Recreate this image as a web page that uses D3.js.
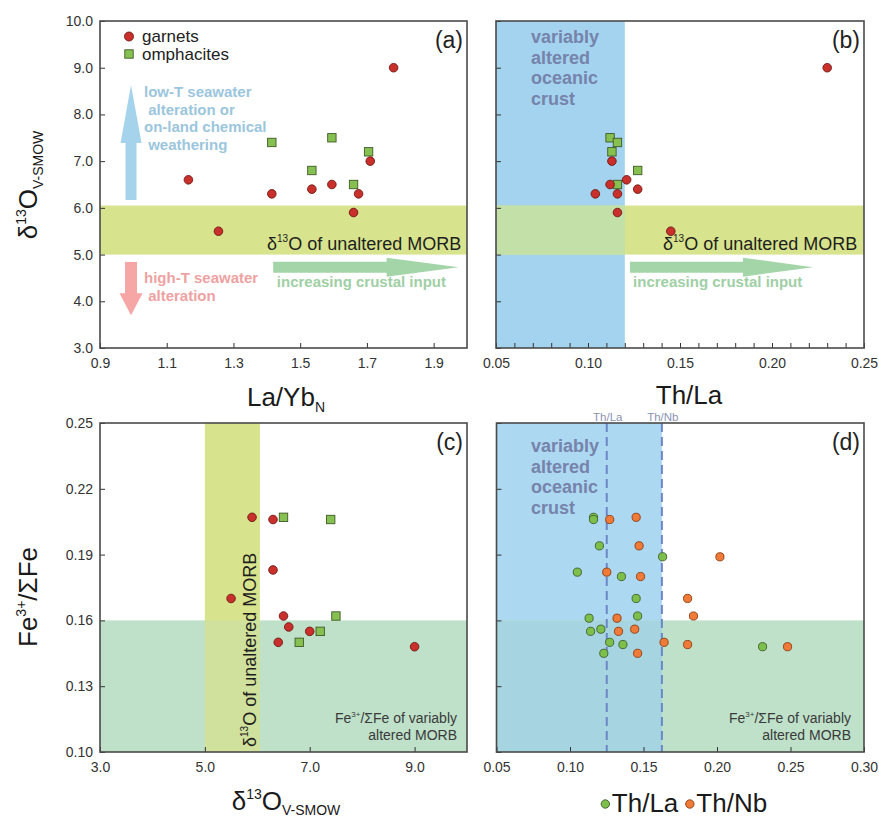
<!DOCTYPE html>
<html>
<head>
<meta charset="utf-8">
<script src="https://cdn.jsdelivr.net/npm/d3@7"></script>
<style>
  body { margin: 0; background: #fff; }
  svg { display: block; }
  text { font-family: "Liberation Sans", Arial, Helvetica, sans-serif; }
</style>
</head>
<body>
<svg id="chart" width="879" height="821"></svg>
<script>
// ---------------- data ----------------
// (a) La/Yb_N vs δ18O
const garnetLaYb   = [1.78, 1.165, 1.255, 1.415, 1.535, 1.595, 1.66, 1.675, 1.71];
const garnetD18O_a = [9.0, 6.6, 5.5, 6.3, 6.4, 6.5, 5.9, 6.3, 7.0];
const omphLaYb     = [1.415, 1.535, 1.595, 1.66, 1.705];
const omphD18O_a   = [7.4, 6.8, 7.5, 6.5, 7.2];

// (b) Th/La vs δ18O
const garnetThLa   = [0.230, 0.113, 0.112, 0.121, 0.127, 0.104, 0.116, 0.116, 0.145];
const garnetD18O_b = [9.0, 7.0, 6.5, 6.6, 6.4, 6.3, 6.3, 5.9, 5.5];
const omphThLa     = [0.112, 0.116, 0.113, 0.127, 0.116];
const omphD18O_b   = [7.5, 7.4, 7.2, 6.8, 6.5];

// (c) δ18O vs Fe3+/ΣFe
const garnetD18O_c = [5.9, 6.3, 6.3, 5.5, 6.5, 6.6, 7.0, 6.4, 9.0];
const garnetFe     = [0.207, 0.206, 0.183, 0.170, 0.162, 0.157, 0.155, 0.150, 0.148];
const omphD18O_c   = [6.5, 7.4, 7.5, 7.2, 6.8];
const omphFe       = [0.207, 0.206, 0.162, 0.155, 0.150];

// (d) Th/La and Th/Nb vs Fe3+/ΣFe
const sampleFe = [0.207, 0.206, 0.194, 0.189, 0.182, 0.180, 0.170, 0.162, 0.161, 0.156, 0.155, 0.150, 0.149, 0.148, 0.145];
const sampleThLa = [0.116, 0.116, 0.120, 0.163, 0.105, 0.135, 0.145, 0.146, 0.113, 0.121, 0.114, 0.127, 0.136, 0.231, 0.123];
const sampleThNb = [0.145, 0.127, 0.147, 0.202, 0.125, 0.148, 0.180, 0.184, 0.132, 0.144, 0.133, 0.164, 0.180, 0.248, 0.146];

// reference fields
const morbD18O = [5.0, 6.05];         // unaltered MORB δ18O range
const alteredThLa = [0.05, 0.12];     // variably altered oceanic crust (panel b)
const alteredFe = [0.10, 0.16];       // Fe3+/ΣFe of variably altered MORB
const alteredThLaRef = 0.125;         // Th/La reference line
const alteredThNbRef = 0.1625;        // Th/Nb reference line

// tick labels
const ticksA_x = [0.9, 1.1, 1.3, 1.5, 1.7, 1.9];
const ticksA_y = [3, 4, 5, 6, 7, 8, 9, 10];
const ticksB_x = [0.05, 0.10, 0.15, 0.20, 0.25];
const ticksC_x = [3, 5, 7, 9];
const ticksC_y = [0.10, 0.13, 0.16, 0.19, 0.22, 0.25];
const ticksD_x = [0.05, 0.10, 0.15, 0.20, 0.25, 0.30];

// ---------------- styles ----------------
const C = {
  frame: "#4a4a4a", tick: "#333",
  garnet: "#c9302b", garnetStroke: "#6e1a15",
  omph: "#86c050", omphStroke: "#3e5a26",
  thla: "#7dbf4b", thlaStroke: "#3f5e2b",
  thnb: "#f07a38", thnbStroke: "#8a3c12",
  yellow: "#d7e38d", blueB: "#a3d3ee", blueD: "#acd8f1", green: "#bfe1c9",
  ovBY: "#c4e0a9", ovCY: "#d0e09d", ovDG: "#a6d4e1",
  fieldText: "#7683ab",
  arrowBlue: "#a6d3ec", arrowRed: "#f6a6a4", arrowGreen: "#a4d5a9",
  txtBlue: "#9bc6dd", txtRed: "#eea2a2", txtGreen: "#a0cfa5"
};

const svg = d3.select("#chart");

// ---------------- scales ----------------
const xA = d3.scaleLinear().domain([0.9, 2.0]).range([100, 467]);
const yA = d3.scaleLinear().domain([3, 10]).range([348, 21]);
const xB = d3.scaleLinear().domain([0.05, 0.25]).range([496, 864]);
const yB = yA.copy();
const xC = d3.scaleLinear().domain([3, 10]).range([100, 467]);
const yC = d3.scaleLinear().domain([0.10, 0.25]).range([752, 423]);
const xD = d3.scaleLinear().domain([0.05, 0.30]).range([496.5, 864]);
const yD = yC.copy();

// ---------------- helpers ----------------
function rich(g, x, y, parts, opts = {}) {
  const t = g.append("text").attr("x", x).attr("y", y)
    .attr("text-anchor", opts.anchor || "start")
    .attr("fill", opts.fill || "#222");
  if (opts.weight) t.attr("font-weight", opts.weight);
  let cur = 0;
  parts.forEach(p => {
    const shift = p.shift || 0;
    t.append("tspan").attr("font-size", p.size).attr("dy", shift - cur).text(p.t);
    cur = shift;
  });
  return t;
}

function band(g, x0, x1, y0, y1, fill) {
  g.append("rect")
    .attr("x", Math.min(x0, x1)).attr("y", Math.min(y0, y1))
    .attr("width", Math.abs(x1 - x0)).attr("height", Math.abs(y1 - y0))
    .attr("fill", fill);
}

function frame(g, x, y) {
  g.append("rect")
    .attr("x", x.range()[0]).attr("y", y.range()[1])
    .attr("width", x.range()[1] - x.range()[0])
    .attr("height", y.range()[0] - y.range()[1])
    .attr("fill", "none").attr("stroke", C.frame).attr("stroke-width", 1.6);
}

function styleAxis(sel) {
  sel.select(".domain").remove();
  sel.selectAll(".tick line").attr("stroke", C.tick).attr("stroke-width", 1);
  sel.selectAll(".tick text").attr("fill", "#333").attr("font-size", 14)
    .attr("font-family", '"Liberation Sans", Arial, sans-serif');
}

function xAxis(g, x, y, values, fmt, labels = true) {
  const ax = d3.axisBottom(x).tickValues(values).tickSizeInner(-5).tickSizeOuter(0)
    .tickPadding(10).tickFormat(labels ? d3.format(fmt) : "");
  g.append("g").attr("transform", `translate(0,${y.range()[0]})`).call(ax).call(styleAxis);
}

function yAxis(g, x, y, values, fmt, labels = true) {
  const ax = d3.axisLeft(y).tickValues(values).tickSizeInner(-5).tickSizeOuter(0)
    .tickPadding(7).tickFormat(labels ? d3.format(fmt) : "");
  g.append("g").attr("transform", `translate(${x.range()[0]},0)`).call(ax).call(styleAxis);
}

// block arrow from (x0,y0) to tip (x1,y1)
function blockArrow(g, x0, y0, x1, y1, shaftHalf, headHalf, headLen, fill) {
  const dx = x1 - x0, dy = y1 - y0, L = Math.hypot(dx, dy);
  const ux = dx / L, uy = dy / L, nx = -uy, ny = ux;
  const bx = x1 - ux * headLen, by = y1 - uy * headLen;
  const pts = [
    [x0 + nx * shaftHalf, y0 + ny * shaftHalf],
    [bx + nx * shaftHalf, by + ny * shaftHalf],
    [bx + nx * headHalf, by + ny * headHalf],
    [x1, y1],
    [bx - nx * headHalf, by - ny * headHalf],
    [bx - nx * shaftHalf, by - ny * shaftHalf],
    [x0 - nx * shaftHalf, y0 - ny * shaftHalf]
  ];
  g.append("polygon").attr("points", pts.map(p => p.join(",")).join(" ")).attr("fill", fill);
}

function circles(g, xs, ys, x, y, fill, stroke, r = 4.3) {
  g.append("g").selectAll("circle").data(xs.map((v, i) => [v, ys[i]])).join("circle")
    .attr("cx", d => x(d[0])).attr("cy", d => y(d[1])).attr("r", r)
    .attr("fill", fill).attr("stroke", stroke).attr("stroke-width", 0.9);
}

function squares(g, xs, ys, x, y, fill, stroke, s = 8.4) {
  g.append("g").selectAll("rect").data(xs.map((v, i) => [v, ys[i]])).join("rect")
    .attr("x", d => x(d[0]) - s / 2).attr("y", d => y(d[1]) - s / 2)
    .attr("width", s).attr("height", s)
    .attr("fill", fill).attr("stroke", stroke).attr("stroke-width", 0.9);
}

function panelTag(g, x, y, label) {
  g.append("text").attr("x", x.range()[1] - 4).attr("y", y.range()[1] + 27)
    .attr("text-anchor", "end").attr("font-size", 23).attr("fill", "#222").text(label);
}

function morbLabel(g, xPix, y) {
  rich(g, xPix, y(5.0) - 5, [
    { t: "δ", size: 18 }, { t: "13", size: 10, shift: -8 }, { t: "O of unaltered MORB", size: 18 }
  ], { fill: "#1e1e1e" });
}

function crustLabel(g, x, top) {
  const t = g.append("text").attr("font-size", 18).attr("font-weight", "bold").attr("fill", C.fieldText);
  ["variably", "altered", "oceanic", "crust"].forEach((w, i) => {
    t.append("tspan").attr("x", x).attr("y", top + i * 20.5).text(w);
  });
}

function feFieldLabel(g, xRight, yBase) {
  rich(g, xRight, yBase, [
    { t: "Fe", size: 14 }, { t: "3+", size: 8, shift: -6 }, { t: "/ΣFe of variably", size: 14 }
  ], { anchor: "end", fill: "#3a3a3a" });
  g.append("text").attr("x", xRight).attr("y", yBase + 17).attr("text-anchor", "end")
    .attr("font-size", 14).attr("fill", "#3a3a3a").text("altered MORB");
}

// ---------------- panel (a) ----------------
const gA = svg.append("g");
band(gA, xA(0.9), xA(2.0), yA(morbD18O[0]), yA(morbD18O[1]), C.yellow);
// interpretive arrows
blockArrow(gA, xA(0.993), yA(6.17), xA(0.993), yA(8.63), 5.5, 10.5, 58, C.arrowBlue);
blockArrow(gA, xA(0.993), yA(4.84), xA(0.993), yA(3.70), 6, 11.5, 22, C.arrowRed);
blockArrow(gA, xA(1.419), yA(4.73), xA(1.975), yA(4.73), 5.5, 9.5, 72, C.arrowGreen);
{
  const t = gA.append("text").attr("font-size", 15).attr("font-weight", "bold").attr("fill", C.txtBlue);
  ["low-T seawater", " alteration or", "on-land chemical", " weathering"]
    .forEach((l, i) => t.append("tspan").attr("x", 144).attr("y", 97 + i * 17.5).attr("xml:space", "preserve").text(l));
  const r = gA.append("text").attr("font-size", 15).attr("font-weight", "bold").attr("fill", C.txtRed);
  ["high-T seawater", " alteration"].forEach((l, i) =>
    r.append("tspan").attr("x", 144).attr("y", 283 + i * 18).attr("xml:space", "preserve").text(l));
  gA.append("text").attr("x", xA(1.43)).attr("y", 287).attr("font-size", 15).attr("font-weight", "bold")
    .attr("fill", C.txtGreen).text("increasing crustal input");
}
morbLabel(gA, 267, yA);
squares(gA, omphLaYb, omphD18O_a, xA, yA, C.omph, C.omphStroke);
circles(gA, garnetLaYb, garnetD18O_a, xA, yA, C.garnet, C.garnetStroke);
// legend
gA.append("circle").attr("cx", 129).attr("cy", 36.5).attr("r", 4.5)
  .attr("fill", C.garnet).attr("stroke", C.garnetStroke).attr("stroke-width", 0.9);
gA.append("rect").attr("x", 124.8).attr("y", 49.8).attr("width", 8.4).attr("height", 8.4)
  .attr("fill", C.omph).attr("stroke", C.omphStroke).attr("stroke-width", 0.9);
gA.append("text").attr("x", 142).attr("y", 41.5).attr("font-size", 17).attr("fill", "#222").text("garnets");
gA.append("text").attr("x", 142).attr("y", 59.5).attr("font-size", 17).attr("fill", "#222").text("omphacites");
panelTag(gA, xA, yA, "(a)");
xAxis(gA, xA, yA, ticksA_x, ".1f");
yAxis(gA, xA, yA, ticksA_y, ".1f");
frame(gA, xA, yA);

// ---------------- panel (b) ----------------
const gB = svg.append("g");
band(gB, xB(alteredThLa[0]), xB(alteredThLa[1]), yB(3), yB(10), C.blueB);
band(gB, xB(0.05), xB(0.25), yB(morbD18O[0]), yB(morbD18O[1]), C.yellow);
band(gB, xB(alteredThLa[0]), xB(alteredThLa[1]), yB(morbD18O[0]), yB(morbD18O[1]), C.ovBY);
blockArrow(gB, xB(0.1228), yB(4.73), xB(0.2223), yB(4.73), 5.5, 9.5, 70, C.arrowGreen);
gB.append("text").attr("x", xB(0.1245)).attr("y", 287).attr("font-size", 15).attr("font-weight", "bold")
  .attr("fill", C.txtGreen).text("increasing crustal input");
morbLabel(gB, 663, yB);
crustLabel(gB, 531, 43);
squares(gB, omphThLa, omphD18O_b, xB, yB, C.omph, C.omphStroke);
circles(gB, garnetThLa, garnetD18O_b, xB, yB, C.garnet, C.garnetStroke);
panelTag(gB, xB, yB, "(b)");
xAxis(gB, xB, yB, d3.range(5, 26).map(v => v / 100), ".2f", false);
xAxis(gB, xB, yB, ticksB_x, ".2f");
yAxis(gB, xB, yB, ticksA_y, ".1f", false);
frame(gB, xB, yB);

// ---------------- panel (c) ----------------
const gC = svg.append("g");
band(gC, xC(3), xC(10), yC(alteredFe[0]), yC(alteredFe[1]), C.green);
band(gC, xC(morbD18O[0]), xC(morbD18O[1]), yC(0.10), yC(0.25), C.yellow);
band(gC, xC(morbD18O[0]), xC(morbD18O[1]), yC(alteredFe[0]), yC(alteredFe[1]), C.ovCY);
{
  const g = gC.append("g").attr("transform", `translate(${xC(morbD18O[1]) - 3.5},${yC(0.10) - 5}) rotate(-90)`);
  rich(g, 0, 0, [
    { t: "δ", size: 18 }, { t: "13", size: 10, shift: -8 }, { t: "O of unaltered MORB", size: 18 }
  ], { fill: "#1e1e1e" });
}
feFieldLabel(gC, 457, 723);
squares(gC, omphD18O_c, omphFe, xC, yC, C.omph, C.omphStroke);
circles(gC, garnetD18O_c, garnetFe, xC, yC, C.garnet, C.garnetStroke);
panelTag(gC, xC, yC, "(c)");
xAxis(gC, xC, yC, ticksC_x, ".1f");
yAxis(gC, xC, yC, ticksC_y, ".2f");
frame(gC, xC, yC);

// ---------------- panel (d) ----------------
const gD = svg.append("g");
band(gD, xD(0.05), xD(alteredThNbRef), yD(0.10), yD(0.25), C.blueD);
band(gD, xD(0.05), xD(0.30), yD(alteredFe[0]), yD(alteredFe[1]), C.green);
band(gD, xD(0.05), xD(alteredThNbRef), yD(alteredFe[0]), yD(alteredFe[1]), C.ovDG);
crustLabel(gD, 531, 452);
[[alteredThLaRef, "Th/La"], [alteredThNbRef, "Th/Nb"]].forEach(([v, lab]) => {
  gD.append("line").attr("x1", xD(v)).attr("x2", xD(v)).attr("y1", yD(0.25)).attr("y2", yD(0.10))
    .attr("stroke", "#6b87c6").attr("stroke-width", 2).attr("stroke-dasharray", "9,5");
  gD.append("text").attr("x", xD(v) + 1).attr("y", yD(0.25) - 2).attr("text-anchor", "middle")
    .attr("font-size", 11.5).attr("fill", "#8b93b3").text(lab);
});
feFieldLabel(gD, 851, 723);
circles(gD, sampleThLa, sampleFe, xD, yD, C.thla, C.thlaStroke, 4.1);
circles(gD, sampleThNb, sampleFe, xD, yD, C.thnb, C.thnbStroke, 4.1);
panelTag(gD, xD, yD, "(d)");
xAxis(gD, xD, yD, ticksD_x, ".2f");
yAxis(gD, xD, yD, ticksC_y, ".2f", false);
frame(gD, xD, yD);

// ---------------- axis titles ----------------
rich(svg, 286, 406, [{ t: "La/Yb", size: 26 }, { t: "N", size: 14, shift: 6 }], { anchor: "middle", fill: "#1a1a1a" });
svg.append("text").attr("x", 689).attr("y", 404).attr("text-anchor", "middle")
  .attr("font-size", 26).attr("fill", "#1a1a1a").text("Th/La");
{
  const g = svg.append("g").attr("transform", "translate(37,185) rotate(-90)");
  rich(g, 0, 0, [
    { t: "δ", size: 26 }, { t: "13", size: 14, shift: -11 }, { t: "O", size: 26 }, { t: "V-SMOW", size: 14, shift: 6 }
  ], { anchor: "middle", fill: "#1a1a1a" });
}
{
  const g = svg.append("g").attr("transform", "translate(37,597) rotate(-90)");
  rich(g, 0, 0, [
    { t: "Fe", size: 26 }, { t: "3+", size: 14, shift: -11 }, { t: "/ΣFe", size: 26 }
  ], { anchor: "middle", fill: "#1a1a1a" });
}
rich(svg, 286, 810, [
  { t: "δ", size: 26 }, { t: "13", size: 14, shift: -11 }, { t: "O", size: 26 }, { t: "V-SMOW", size: 14, shift: 5 }
], { anchor: "middle", fill: "#1a1a1a" });

// series key under panel (d)
{
  const g = svg.append("g");
  const items = [["Th/La", C.thla, C.thlaStroke], ["Th/Nb", C.thnb, C.thnbStroke]];
  let x = 0;
  items.forEach(([lab, f, s]) => {
    g.append("circle").attr("cx", x + 4.5).attr("cy", -8).attr("r", 4.2)
      .attr("fill", f).attr("stroke", s).attr("stroke-width", 0.9);
    const t = g.append("text").attr("x", x + 11).attr("y", 0).attr("font-size", 26)
      .attr("fill", "#1a1a1a").text(lab);
    x += 11 + t.node().getComputedTextLength() + 7;
  });
  const w = x - 7;
  g.attr("transform", `translate(${684 - w / 2},812)`);
}
</script>
</body>
</html>
